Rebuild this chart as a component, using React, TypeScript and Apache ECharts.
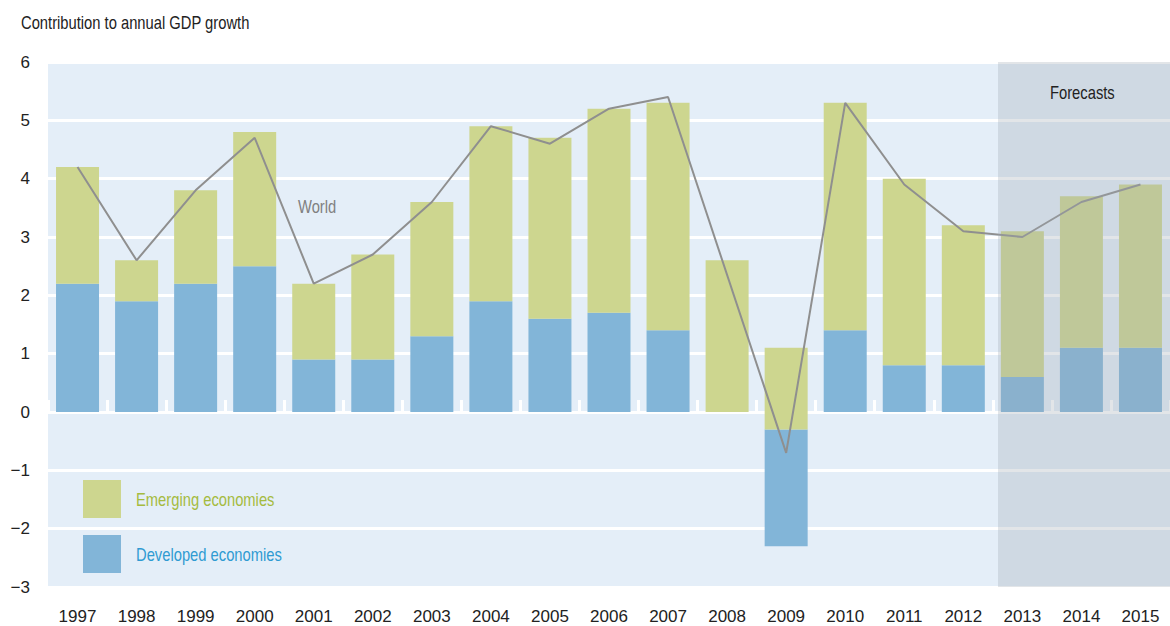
import React, { useEffect, useRef } from "react";
import * as echarts from "echarts";

const years = ["1997","1998","1999","2000","2001","2002","2003","2004","2005","2006","2007","2008","2009","2010","2011","2012","2013","2014","2015"];
// where each stacked bar starts (2009 bar is drawn from -2.3 upward)
const barBase = [0,0,0,0,0,0,0,0,0,0,0,0,-2.3,0,0,0,0,0,0];
const developed = [2.2,1.9,2.2,2.5,0.9,0.9,1.3,1.9,1.6,1.7,1.4,0,2.0,1.4,0.8,0.8,0.6,1.1,1.1];
const emerging = [2.0,0.7,1.6,2.3,1.3,1.8,2.3,3.0,3.1,3.5,3.9,2.6,1.4,3.9,3.2,2.4,2.5,2.6,2.8];
const world = [4.2,2.6,3.8,4.7,2.2,2.7,3.6,4.9,4.6,5.2,5.4,null,-0.7,5.3,3.9,3.1,3.0,3.6,3.9];
const yTicks = { min: -3, max: 6, interval: 1 };
const legendNames = ["Emerging economies", "Developed economies"];

const FONT = "'Liberation Sans', Arial, sans-serif";
const GREEN = "#cdd68f";
const BLUE = "#82b5d8";
const SQ = 0.82;

export default function App() {
  const ref = useRef<HTMLDivElement>(null);
  useEffect(() => {
    document.body.style.margin = "0";
    const chart = echarts.init(ref.current!, null, { renderer: "svg" });
    const txt = (text: string, x: number, y: number, fill: string) => ({
      type: "text", x, y, scaleX: SQ, z: 101, silent: true,
      style: { text, fill, font: `18px ${FONT}`, textAlign: "left", textVerticalAlign: "middle" },
    });
    chart.setOption({
      animation: false,
      backgroundColor: "#ffffff",
      textStyle: { fontFamily: FONT },
      grid: {
        left: 48, top: 62, width: 1129, height: 525,
        show: true, backgroundColor: "#e4eef8", borderWidth: 0,
      },
      xAxis: [
        {
          type: "category", data: years, gridIndex: 0,
          axisLine: { onZero: true, lineStyle: { color: "#ffffff", width: 3 } },
          axisTick: { show: true, inside: true, length: 12, lineStyle: { color: "#ffffff", width: 3 } },
          axisLabel: { show: false },
          splitLine: { show: false },
          z: 1,
        },
        {
          type: "category", data: years, gridIndex: 0, position: "bottom",
          axisLine: { show: false, onZero: false },
          axisTick: { show: false },
          axisLabel: { color: "#222", fontSize: 17, margin: 21, fontFamily: FONT },
          splitLine: { show: false },
        },
      ],
      yAxis: {
        type: "value", min: yTicks.min, max: yTicks.max, interval: yTicks.interval,
        axisLine: { show: false }, axisTick: { show: false },
        axisLabel: {
          color: "#222", fontSize: 17, margin: 18, fontFamily: FONT,
          formatter: (v: number) => String(v).replace("-", "\u2212"),
        },
        splitLine: { lineStyle: { color: "#ffffff", width: 3 } },
      },
      series: [
        {
          name: "base", type: "bar", stack: "g", stackStrategy: "all", data: barBase,
          barWidth: 43, itemStyle: { color: "rgba(0,0,0,0)" }, silent: true, xAxisIndex: 0,
        },
        {
          name: legendNames[1], type: "bar", stack: "g", stackStrategy: "all", data: developed,
          barWidth: 43, itemStyle: { color: BLUE }, xAxisIndex: 0,
        },
        {
          name: legendNames[0], type: "bar", stack: "g", stackStrategy: "all", data: emerging,
          barWidth: 43, itemStyle: { color: GREEN }, xAxisIndex: 0,
        },
        {
          name: "World", type: "line", data: world, connectNulls: true, showSymbol: false, symbol: "none",
          lineStyle: { color: "#8f8f8f", width: 2 }, xAxisIndex: 0, z: 5,
        },
      ],
      graphic: [
        {
          type: "rect", x: 998, y: 62, z: 100, silent: true,
          shape: { width: 172, height: 525 },
          style: { fill: "rgba(160,168,180,0.3)" },
        },
        { type: "rect", x: 83, y: 480, z: 101, silent: true, shape: { width: 38, height: 38 }, style: { fill: GREEN } },
        { type: "rect", x: 83, y: 535, z: 101, silent: true, shape: { width: 38, height: 38 }, style: { fill: BLUE } },
        txt(legendNames[0], 136, 499, "#a5bb3f"),
        txt(legendNames[1], 136, 554, "#2f9bd2"),
        txt("Forecasts", 1050, 92, "#222"),
        txt("World", 298, 206, "#808080"),
        txt("Contribution to annual GDP growth", 21, 22, "#222"),
      ],
    });
    return () => chart.dispose();
  }, []);
  return <div ref={ref} style={{ width: 1170, height: 626, position: "fixed", left: 0, top: 0 }} />;
}
